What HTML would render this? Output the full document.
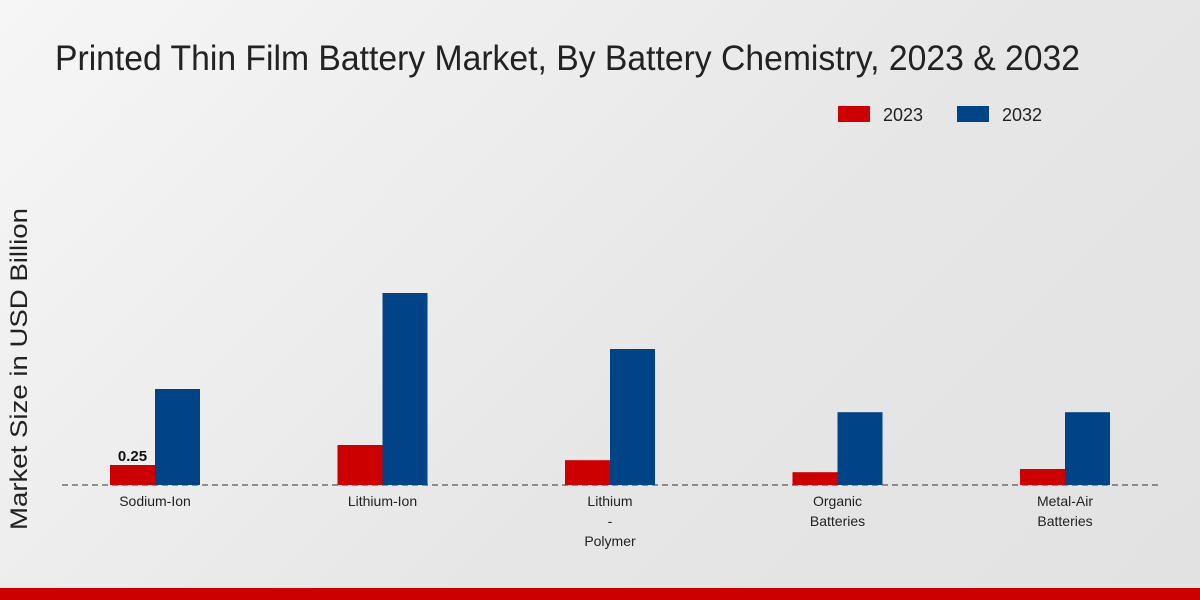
<!DOCTYPE html>
<html><head><meta charset="utf-8"><style>
html,body{margin:0;padding:0;}
body{width:1200px;height:600px;overflow:hidden;background:linear-gradient(135deg,#f6f6f6 0%,#e6e6e6 60%,#e2e2e2 100%);font-family:"Liberation Sans",sans-serif;position:relative;}
svg{position:absolute;left:0;top:0;}
</style></head><body>
<svg width="1200" height="600" id="chart">
<text x="55" y="70" font-size="35" fill="#222" textLength="1025" lengthAdjust="spacingAndGlyphs">Printed Thin Film Battery Market, By Battery Chemistry, 2023 &amp; 2032</text>
<g>
<rect x="838" y="106" width="32" height="16" fill="#cc0000"/>
<text x="883" y="121" font-size="18" fill="#222">2023</text>
<rect x="957" y="106" width="32" height="16" fill="#004488"/>
<text x="1002" y="121" font-size="18" fill="#222">2032</text>
</g>
<text transform="translate(27,369) rotate(-90)" x="-161" y="0" font-size="24" fill="#222" textLength="322" lengthAdjust="spacingAndGlyphs">Market Size in USD Billion</text>
<line x1="62" y1="485" x2="1160" y2="485" stroke="#333" stroke-dasharray="6,4" stroke-width="1"/>
<g id="bars"></g>
<rect x="0" y="588" width="1200" height="12" fill="#cc0000"/>
</svg>
<script>
const categories=[["Sodium-Ion"],["Lithium-Ion"],["Lithium","-","Polymer"],["Organic","Batteries"],["Metal-Air","Batteries"]];
const values2023=[0.25,0.5,0.31,0.16,0.2];
const values2032=[1.2,2.4,1.7,0.91,0.91];
const valueLabels=["0.25",null,null,null,null];
const ns="http://www.w3.org/2000/svg";
const g=document.getElementById('bars');
const base=485, pxPerUnit=80;
function y(v){return base-v*pxPerUnit;}
function cx(i){return 155+i*227.5;}
const bw=45;
function mk(tag,attrs){const e=document.createElementNS(ns,tag);for(const k in attrs)e.setAttribute(k,attrs[k]);g.appendChild(e);return e;}
categories.forEach((c,i)=>{
  const r1=mk('rect',{x:cx(i)-bw,y:y(values2023[i]),width:bw,height:base-y(values2023[i]),fill:'#cc0000'});
  
  
  const r2=mk('rect',{x:cx(i),y:y(values2032[i]),width:bw,height:base-y(values2032[i]),fill:'#004488'});
  
  
  if(valueLabels[i]){
    const t=mk('text',{x:cx(i)-bw/2,y:y(values2023[i])-4,'text-anchor':'middle','font-size':15,'font-weight':'bold',fill:'#111'});
    t.textContent=valueLabels[i];
    
    
  }
  c.forEach((line,j)=>{
    const t=mk('text',{x:cx(i),y:506+j*20,'text-anchor':'middle','font-size':14,fill:'#222'});
    t.textContent=line;
    
    
  });
});
</script>
</body></html>
